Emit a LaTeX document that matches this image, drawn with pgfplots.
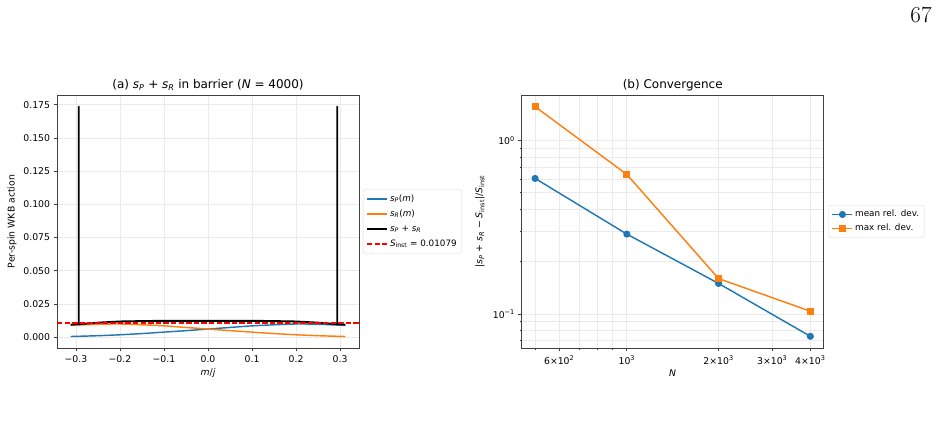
\documentclass[border=0pt]{standalone}
\usepackage{pgfplots}
\pgfplotsset{compat=1.18}
\usepackage{fontspec}
\newfontfamily\dejavu{DejaVu Sans}

\definecolor{mplblue}{HTML}{1F77B4}
\definecolor{mplorange}{HTML}{FF7F0E}
\definecolor{mplred}{HTML}{FF0000}
\definecolor{gridc}{HTML}{EAEAEA}
\definecolor{spine}{HTML}{404040}

\newcommand\tickfont{\dejavu\fontsize{9.3}{11}\selectfont}
\newcommand\titlefont{\dejavu\fontsize{12}{14}\selectfont}
\newcommand\legfont{\dejavu\fontsize{8.8}{10}\selectfont}
\newcommand\sP{\textit{s}\textsubscript{\textit{P}}}
\newcommand\sR{\textit{s}\textsubscript{\textit{R}}}
\newcommand\Sinst{\textit{S}\textsubscript{inst}}

\pgfplotsset{
  mplstyle/.style={
    scale only axis,
    width=302pt, height=253pt,
    axis line style={spine, line width=0.77pt},
    tick style={spine, line width=0.77pt},
    tick align=outside, tick pos=left,
    major tick length=3.4pt, minor tick length=1.9pt,
    grid=both,
    major grid style={gridc, line width=0.77pt},
    minor grid style={gridc, line width=0.77pt},
    tick label style={font=\tickfont},
    xticklabel style={yshift=-0.5pt},
    label style={font=\tickfont},
    every axis title shift=0pt,
    title style={font=\titlefont, at={(axis description cs:0.5,1.04)}, anchor=center},
    xlabel style={at={(axis description cs:0.5,-0.099)}, anchor=center},
    legend cell align=left,
    legend style={font=\legfont, draw=black!15, fill=white, rounded corners=2pt,
      inner xsep=3pt, inner ysep=2.5pt, row sep=0pt,
      nodes={inner sep=2pt, text height=7pt, text depth=2.5pt}},
    legend image code/.code={
      \draw[mark repeat=2, mark phase=2] plot coordinates {(0pt,0pt) (10pt,0pt) (20pt,0pt)};
    },
  },
}

% per-spin actions inside the barrier (N = 4000)
\pgfplotstableread{
m       sP      sR
-0.312  0.0006  0.0089
-0.300  0.0007  0.0091
-0.250  0.0012  0.0098
-0.200  0.0019  0.0100
-0.150  0.0028  0.0094
-0.100  0.0039  0.0086
-0.050  0.0050  0.0074
 0.000  0.0062  0.0062
 0.050  0.0074  0.0050
 0.100  0.0086  0.0039
 0.150  0.0094  0.0028
 0.200  0.0100  0.0019
 0.250  0.0098  0.0012
 0.300  0.0091  0.0007
 0.312  0.0089  0.0006
}\actiontable

% sum s_P + s_R, with the turning-point spikes
\pgfplotstableread{
m       s
-0.312  0.0095
-0.300  0.0098
-0.2935 0.0098
-0.2935 0.1735
-0.2935 0.0099
-0.250  0.0110
-0.200  0.0119
-0.150  0.0122
-0.100  0.0124
-0.050  0.0124
 0.000  0.0124
 0.050  0.0124
 0.100  0.0124
 0.150  0.0122
 0.200  0.0119
 0.250  0.0110
 0.2935 0.0099
 0.2935 0.1735
 0.2935 0.0098
 0.300  0.0098
 0.312  0.0095
}\sumtable

% relative deviation versus N
\pgfplotstableread{
N     mean    max
500   0.606   1.573
1000  0.289   0.639
2000  0.150   0.160
4000  0.0743  0.1037
}\convtable

\begin{document}
\begin{tikzpicture}
\useasboundingbox (0,0) rectangle (939pt,435pt);
\node[font=\fontsize{23}{23}\selectfont] at (921pt,420pt) {67};

\begin{axis}[mplstyle,
  at={(57pt,87pt)}, anchor=south west,
  xmin=-0.343, xmax=0.343, ymin=-0.00805, ymax=0.1823,
  xtick={-0.3,-0.2,-0.1,0,0.1,0.2,0.3},
  xticklabels={−0.3,−0.2,−0.1,0.0,0.1,0.2,0.3},
  ytick={0,0.025,0.05,0.075,0.1,0.125,0.15,0.175},
  yticklabels={0.000,0.025,0.050,0.075,0.100,0.125,0.150,0.175},
  minor xtick={}, minor ytick={},
  title={(a) \sP\ + \sR\ in barrier (\textit{N} = 4000)},
  xlabel={\textit{m}/\textit{j}},
  ylabel={Per-spin WKB action},
  ylabel style={at={(axis description cs:-0.149,0.5)}, anchor=center},
  legend style={at={(1.013,0.5)}, anchor=west, row sep=1.5pt},
]
\addplot[mplblue, line width=1.44pt, smooth] table[x=m, y=sP] {\actiontable};
\addlegendentry{\sP(\textit{m})}
\addplot[mplorange, line width=1.44pt, smooth] table[x=m, y=sR] {\actiontable};
\addlegendentry{\sR(\textit{m})}
\addplot[black, line width=1.9pt, line join=round] table[x=m, y=s] {\sumtable};
\addlegendentry{\sP\ + \sR}
\addplot[mplred, line width=1.44pt, dash pattern=on 5.3pt off 2.3pt] coordinates {(-0.343,0.01079) (0.343,0.01079)};
\addlegendentry{\Sinst\ = 0.01079}
\end{axis}

\begin{axis}[mplstyle,
  at={(521.7pt,87pt)}, anchor=south west,
  xmode=log, ymode=log,
  xmin=452, xmax=4426, ymin=0.0636, ymax=1.837,
  xtick={600,1000,2000,3000,4000},
  xticklabels={6×10\textsuperscript{2},10\textsuperscript{3},2×10\textsuperscript{3},3×10\textsuperscript{3},4×10\textsuperscript{3}},
  minor xtick={500,700,800,900},
  ytick={0.1,1},
  yticklabels={10\textsuperscript{−1},10\textsuperscript{0}},
  minor ytick={0.07,0.08,0.09,0.2,0.3,0.4,0.5,0.6,0.7,0.8,0.9},
  title={(b) Convergence},
  xlabel={\textit{N}},
  ylabel={|\sP\ + \sR\ − \Sinst|/\Sinst},
  ylabel style={at={(axis description cs:-0.138,0.5)}, anchor=center},
  legend style={at={(1.016,0.5)}, anchor=west, row sep=0.5pt},
]
\addplot[mplblue, line width=1.44pt, mark=*, mark size=2.8pt, mark options={solid, fill=mplblue, draw=mplblue}] table[x=N, y=mean] {\convtable};
\addlegendentry{mean rel. dev.}
\addplot[mplorange, line width=1.44pt, mark=square*, mark size=2.8pt, mark options={solid, fill=mplorange, draw=mplorange}] table[x=N, y=max] {\convtable};
\addlegendentry{max rel. dev.}
\end{axis}
\end{tikzpicture}
\end{document}
